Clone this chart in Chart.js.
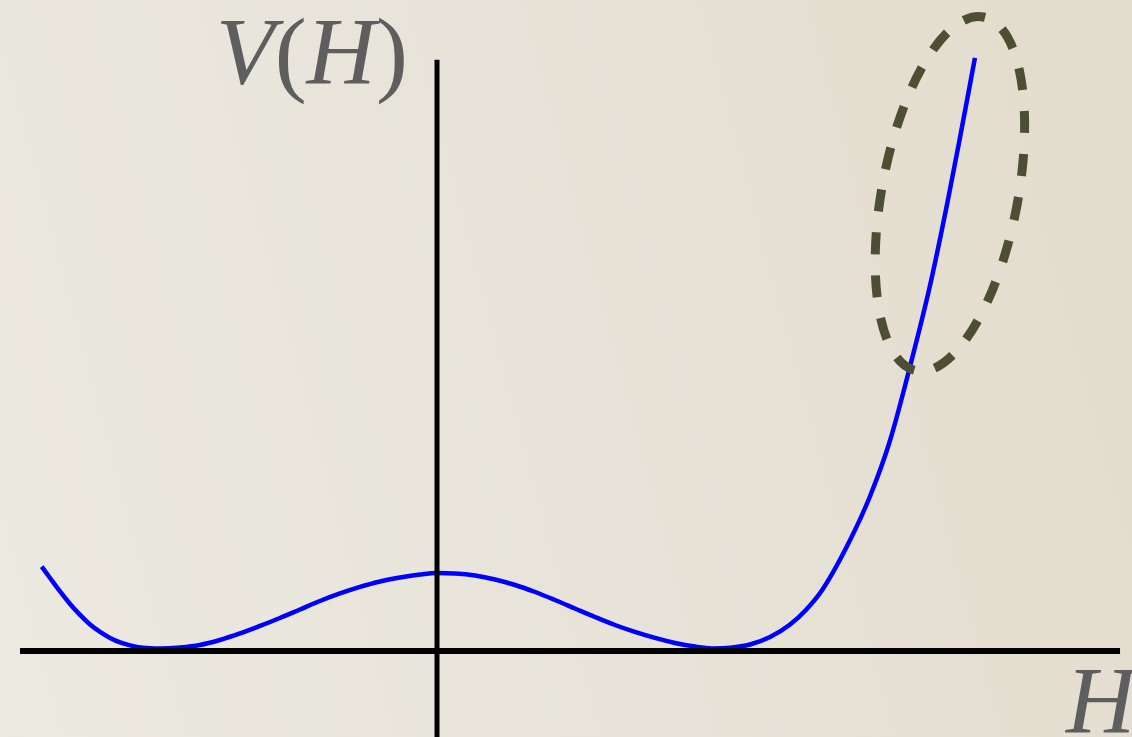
<!DOCTYPE html>
<html>
<head>
<meta charset="utf-8">
<title>V(H)</title>
<script src="https://cdn.jsdelivr.net/npm/chart.js@4.4.1/dist/chart.umd.min.js"></script>
<style>
  html, body { margin: 0; padding: 0; }
  body {
    width: 1132px; height: 737px; overflow: hidden; position: relative;
    background: linear-gradient(75deg, #ece9e1 0%, #e7e3d8 50%, #e2dccc 100%);
  }
  #plot { position: absolute; left: 0; top: 0; }
  .lbl {
    position: absolute;
    font-family: "Liberation Serif", "Times New Roman", serif;
    font-size: 96px; line-height: 96px;
    color: #5e5e5e; white-space: nowrap;
  }
</style>
</head>
<body>
<canvas id="plot" width="1132" height="737"></canvas>
<div class="lbl" style="left:216px; top:4px;"><i>V</i>(<i>H</i>)</div>
<div class="lbl" style="left:1066px; top:653px;"><i>H</i></div>
<script>
// double-well potential, read point by point
const hValues = [-1.422, -1.392, -1.356, -1.320, -1.284, -1.248, -1.212, -1.176, -1.140, -1.104,
                 -1.058, -0.996, -0.924, -0.853, -0.781, -0.709, -0.637, -0.565, -0.493, -0.421,
                 -0.349, -0.277, -0.205, -0.133, -0.061, 0,
                 0.065, 0.137, 0.209, 0.281, 0.353, 0.424, 0.496, 0.568, 0.640, 0.712,
                 0.784, 0.856, 0.928, 0.989, 1.054, 1.126, 1.198, 1.270, 1.327, 1.388,
                 1.486, 1.558, 1.629, 1.701, 1.773, 1.835, 1.881, 1.935];
const vValues = [1.081, 0.936, 0.763, 0.603, 0.462, 0.340, 0.244, 0.167, 0.109, 0.071,
                 0.041, 0.032, 0.045, 0.077, 0.141, 0.224, 0.321, 0.423, 0.532, 0.641,
                 0.737, 0.821, 0.891, 0.942, 0.981, 1.000,
                 0.994, 0.968, 0.917, 0.846, 0.756, 0.654, 0.545, 0.436, 0.333, 0.244,
                 0.167, 0.103, 0.056, 0.033, 0.041, 0.083, 0.179, 0.340, 0.526, 0.795,
                 1.423, 1.987, 2.692, 3.641, 4.679, 5.731, 6.577, 7.603];

// axis lines (ends)
const hAxisEnds = [-1.50, 2.457];
const vAxisEnds = [-1.2, 7.58];

// dashed loop around the steep part
const loopCenter = { h: 1.845, v: 5.86 };

const curve = hValues.map((h, i) => ({ x: h, y: vValues[i] }));

const loopPlugin = {
  id: 'loop',
  afterDatasetsDraw(chart) {
    const { ctx, scales } = chart;
    const cx = scales.x.getPixelForValue(loopCenter.h);
    const cy = scales.y.getPixelForValue(loopCenter.v);
    ctx.save();
    ctx.strokeStyle = '#4d4f35';
    ctx.lineWidth = 9;
    ctx.setLineDash([22, 21]);
    ctx.lineDashOffset = 8;
    ctx.beginPath();
    ctx.ellipse(cx, cy, 68, 180, 0.187, 0, Math.PI * 2);
    ctx.stroke();
    ctx.restore();
  }
};

new Chart(document.getElementById('plot'), {
  type: 'line',
  data: {
    datasets: [
      {
        data: [{ x: hAxisEnds[0], y: 0 }, { x: hAxisEnds[1], y: 0 }],
        borderColor: '#000', borderWidth: 6, pointRadius: 0, order: 0
      },
      {
        data: [{ x: 0, y: vAxisEnds[0] }, { x: 0, y: vAxisEnds[1] }],
        borderColor: '#000', borderWidth: 5, pointRadius: 0, order: 0
      },
      {
        data: curve,
        borderColor: '#0000ff', borderWidth: 4.5, pointRadius: 0,
        cubicInterpolationMode: 'monotone', order: 1
      }
    ]
  },
  options: {
    responsive: false,
    animation: false,
    events: [],
    layout: { padding: 0 },
    plugins: { legend: { display: false }, tooltip: { enabled: false } },
    scales: {
      x: { type: 'linear', min: -1.572, max: 2.5, display: false },
      y: { type: 'linear', min: -1.103, max: 8.346, display: false }
    }
  },
  plugins: [loopPlugin]
});
</script>
</body>
</html>
